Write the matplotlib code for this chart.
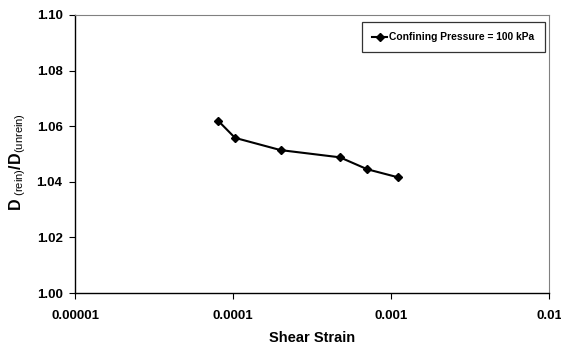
import matplotlib
matplotlib.use("Agg")
import matplotlib.pyplot as plt
from matplotlib.ticker import FixedLocator, FixedFormatter, NullLocator

plt.rcParams['font.family'] = ['Liberation Sans', 'DejaVu Sans']
plt.rcParams['mathtext.fontset'] = 'custom'
plt.rcParams['mathtext.rm'] = 'Liberation Sans'
plt.rcParams['mathtext.bf'] = 'Liberation Sans:bold'

# data
shear_strain = [8.07e-5, 1.03e-4, 2.0e-4, 4.75e-4, 7.08e-4, 1.11e-3]
d_ratio = [1.0619, 1.0558, 1.0514, 1.0488, 1.0445, 1.0416]
series_label = "Confining Pressure = 100 kPa"

x_ticks = [1e-5, 1e-4, 1e-3, 1e-2]
x_tick_labels = ["0.00001", "0.0001", "0.001", "0.01"]
y_ticks = [1.00, 1.02, 1.04, 1.06, 1.08, 1.10]

fig = plt.figure(figsize=(5.61, 3.48), dpi=100)
ax = fig.add_axes([0.1337, 0.158, 0.8449, 0.799])

ax.plot(shear_strain, d_ratio, color='black', linewidth=1.5,
        marker='D', markersize=4.5, label=series_label)

ax.set_xscale('log')
ax.set_xlim(1e-5, 1e-2)
ax.set_ylim(1.00, 1.10)
ax.xaxis.set_major_locator(FixedLocator(x_ticks))
ax.xaxis.set_major_formatter(FixedFormatter(x_tick_labels))
ax.xaxis.set_minor_locator(NullLocator())
ax.set_yticks(y_ticks)
ax.set_yticklabels([f"{v:.2f}" for v in y_ticks])

ax.tick_params(axis='both', direction='out', length=4, width=0.8,
               labelsize=9.5, pad=5)
ax.tick_params(axis='x', pad=8)
for lbl in ax.get_xticklabels() + ax.get_yticklabels():
    lbl.set_fontweight('bold')

for side in ['left', 'bottom']:
    ax.spines[side].set_color('black')
    ax.spines[side].set_linewidth(1.0)
for side in ['top', 'right']:
    ax.spines[side].set_color('#808080')
    ax.spines[side].set_linewidth(0.8)

ax.set_xlabel("Shear Strain", fontsize=10.5, fontweight='bold', labelpad=7)
ax.set_ylabel(r"$\mathbf{D}_{\ \mathrm{(rein)}}\mathbf{/D}_{\mathrm{(unrein)}}$",
              fontsize=11.5)
ax.yaxis.set_label_coords(-0.10, 0.47)

leg = ax.legend(loc='upper right', bbox_to_anchor=(0.9916, 0.975),
                borderaxespad=0, prop={'size': 7.4, 'weight': 'bold'},
                frameon=True, fancybox=False, edgecolor='black',
                handlelength=1.5, borderpad=1.0, handletextpad=0.2,
                markerscale=0.8)
leg.get_frame().set_linewidth(0.9)

fig.savefig("out.png", dpi=100)
